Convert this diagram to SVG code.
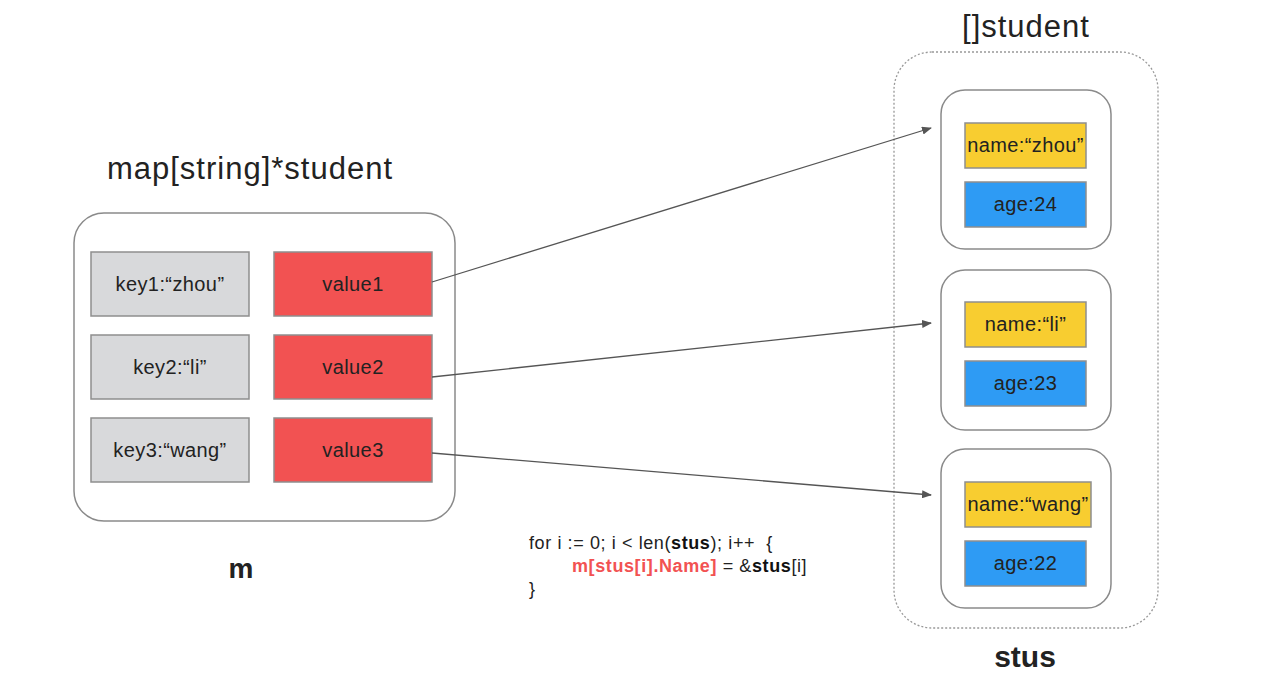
<svg xmlns="http://www.w3.org/2000/svg" width="1272" height="696" viewBox="0 0 1272 696">
<defs>
<style>
text{font-family:"Liberation Sans",Arial,sans-serif;fill:#222}
.t{font-size:20px;text-anchor:middle;letter-spacing:0.4px}
.title{font-size:31px;text-anchor:middle;letter-spacing:1px}
.key{fill:#d8d9db;stroke:#8e8e8e;stroke-width:1.5}
.val{fill:#f25252;stroke:#8e8e8e;stroke-width:1.5}
.nm{fill:#f8cd30;stroke:#8e8e8e;stroke-width:1.5}
.age{fill:#2e9bf4;stroke:#8e8e8e;stroke-width:1.5}
.card{fill:#fff;stroke:#8a8a8a;stroke-width:1.5}
.conn{stroke:#555;stroke-width:1.3;fill:none;marker-end:url(#ah)}
.code{font-size:18px;letter-spacing:0.6px}
</style>
<marker id="ah" markerWidth="10" markerHeight="8" refX="9" refY="4" orient="auto" markerUnits="userSpaceOnUse">
<path d="M0,0 L10,4 L0,8 z" fill="#555"/>
</marker>
</defs>
<rect width="1272" height="696" fill="#fff"/>

<g id="map">
<text class="title" x="250" y="179">map[string]*student</text>
<rect class="card" x="74" y="213" width="381" height="308" rx="30"/>
<rect class="key" x="91" y="252" width="158" height="64"/>
<text class="t" x="170" y="291">key1:“zhou”</text>
<rect class="key" x="91" y="335" width="158" height="64"/>
<text class="t" x="170" y="374">key2:“li”</text>
<rect class="key" x="91" y="418" width="158" height="64"/>
<text class="t" x="170" y="457">key3:“wang”</text>
<rect class="val" x="274" y="252" width="158" height="64"/>
<text class="t" x="353" y="291">value1</text>
<rect class="val" x="274" y="335" width="158" height="64"/>
<text class="t" x="353" y="374">value2</text>
<rect class="val" x="274" y="418" width="158" height="64"/>
<text class="t" x="353" y="457">value3</text>
<text x="241" y="578" font-size="28" font-weight="bold" text-anchor="middle" fill="#111">m</text>
</g>

<g id="stus">
<text class="title" x="1026" y="37">[]student</text>
<rect x="894" y="52" width="264" height="576" rx="38" fill="none" stroke="#999" stroke-width="1.3" stroke-dasharray="2,2"/>
<text x="1025" y="667" font-size="30" font-weight="bold" text-anchor="middle" fill="#111">stus</text>
</g>

<g id="student-zhou">
<rect class="card" x="941" y="90" width="170" height="159" rx="24"/>
<rect class="nm" x="965" y="123" width="121" height="45"/>
<text class="t" x="1025.5" y="152">name:“zhou”</text>
<rect class="age" x="965" y="182" width="121" height="45"/>
<text class="t" x="1025.5" y="211">age:24</text>
</g>

<g id="student-li">
<rect class="card" x="941" y="270" width="170" height="160" rx="24"/>
<rect class="nm" x="965" y="302" width="121" height="45"/>
<text class="t" x="1025.5" y="331">name:“li”</text>
<rect class="age" x="965" y="361" width="121" height="45"/>
<text class="t" x="1025.5" y="390">age:23</text>
</g>

<g id="student-wang">
<rect class="card" x="941" y="449" width="170" height="159" rx="24"/>
<rect class="nm" x="965" y="482" width="126" height="45"/>
<text class="t" x="1028" y="511">name:“wang”</text>
<rect class="age" x="965" y="541" width="121" height="45"/>
<text class="t" x="1025.5" y="570">age:22</text>
</g>

<g id="code">
<text class="code" x="529" y="549">for i := 0; i &lt; len(<tspan font-weight="bold" fill="#111">stus</tspan>); i++&#160; {</text>
<text class="code" x="572" y="572"><tspan font-weight="bold" fill="#f25252">m[stus[i].Name]</tspan> = &amp;<tspan font-weight="bold" fill="#111">stus</tspan>[i]</text>
<text class="code" x="529" y="595">}</text>
</g>

<g id="connectors">
<line class="conn" x1="432" y1="282" x2="931" y2="128"/>
<line class="conn" x1="432" y1="377" x2="931" y2="323"/>
<line class="conn" x1="432" y1="453" x2="931" y2="495"/>
</g>
</svg>
